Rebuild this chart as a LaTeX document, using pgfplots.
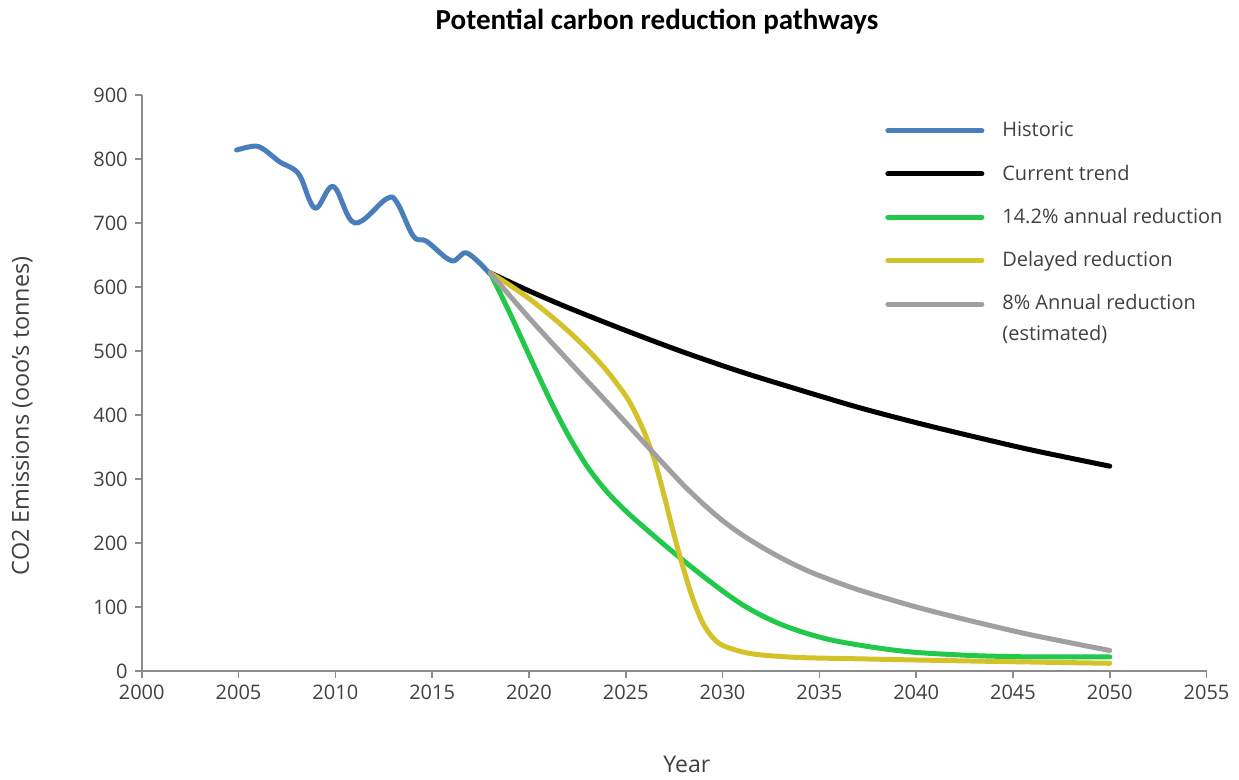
\documentclass[border=0pt]{standalone}
\usepackage{pgfplots}
\pgfplotsset{compat=1.18}
\usepackage{fontspec}
\setmainfont{Open Sans}
\newfontfamily\titlefont{Carlito}
\definecolor{histblue}{HTML}{4A7EBB}
\definecolor{redgreen}{HTML}{22C84A}
\definecolor{delayyellow}{HTML}{D4C22A}
\definecolor{estgray}{HTML}{A0A0A0}
\definecolor{axisgray}{HTML}{8C8C8C}
\definecolor{labelgray}{HTML}{404040}
\pgfplotsset{graylegend/.style={legend image code/.code={\draw[##1, line width=2.5pt, line cap=round] (0pt,7.5pt) -- (47pt,7.5pt); \path (0pt,-7.5pt);}}}
\begin{document}
\begin{tikzpicture}
\begin{axis}[
  scale only axis, width=532.4pt, height=288pt,
  xmin=2000, xmax=2055, ymin=0, ymax=900,
  xtick={2000,2005,...,2055}, ytick={0,100,...,900},
  axis x line*=bottom, axis y line*=left,
  axis line style={-, axisgray, line width=0.8pt},
  tick style={axisgray, line width=0.8pt},
  major tick length=3.5pt, tick align=outside,
  /pgf/number format/assume math mode=true,
  x tick label style={/pgf/number format/1000 sep={}},
  ticklabel style={font=\fontsize{10}{12}\selectfont, text=labelgray},
  clip=false,
  title={Potential carbon reduction pathways},
  title style={at={(0.484,1.127)}, anchor=center, yshift=0pt, font=\titlefont\bfseries\fontsize{14.5}{16}\selectfont},
  every axis title shift=0pt,
  xlabel={Year},
  xlabel style={at={(0.512,-0.1625)}, anchor=center, font=\fontsize{11.5}{13}\selectfont, text=labelgray},
  ylabel={CO2 Emissions (ooo's tonnes)},
  ylabel style={at={(-0.1124,0.443)}, anchor=center, font=\fontsize{11.7}{13}\selectfont, text=labelgray},
  legend cell align=left,
  legend image code/.code={\draw[#1, line width=2.5pt, line cap=round] (0pt,0pt) -- (47pt,0pt);},
  legend style={at={(0.698,0.957)}, anchor=north west, draw=none, fill=none,
    font=\fontsize{10}{15.5}\selectfont, text=labelgray, row sep=10.5pt, inner sep=0pt,
    nodes={inner sep=1pt, align=left},
    /tikz/every odd column/.style={column sep=8pt}},
  every axis plot/.append style={line width=2.5pt, line join=round, line cap=round},
]
\addplot[histblue, smooth, tension=0.6] coordinates {
(2004.9,814)(2005.8,820)(2006.3,815)(2007.15,795)(2007.75,786)(2008.2,772)
(2008.96,723)(2009.9,757)(2011.0,700)(2012.66,738)(2013.2,731)(2014.04,679)
(2014.73,671)(2016.0,641)(2016.8,653)(2018,620)};
\addlegendentry{Historic}
\addplot[black, smooth, tension=0.5] coordinates {
(2018,622)(2020,594)(2022,568)(2025,532)(2028,498)(2031,467)(2034,439)(2037,412)
(2040,388)(2043,366)(2046,345)(2050,320)};
\addlegendentry{Current trend}
\addplot[redgreen, smooth, tension=0.5] coordinates {
(2018,622)(2019,560)(2020,494)(2021,429)(2022,370)(2023,320)(2024,281)(2025,250)
(2026,223)(2027,197)(2028,172)(2029,148)(2030,125)(2031,104)(2032,87)(2033,73)
(2034,62)(2035,53)(2036,46)(2038,36)(2040,29)(2043,24)(2046,22)(2050,22)};
\addlegendentry{14.2\% annual reduction}
\addplot[delayyellow, smooth, tension=0.5] coordinates {
(2018,622)(2019,603)(2020,582)(2021,558)(2022,532)(2023,503)(2024,470)(2025,430)
(2025.5,403)(2026,370)(2026.5,328)(2027,272)(2027.5,212)(2028,158)(2028.5,110)
(2029,74)(2029.5,52)(2030,40)(2031,30)(2032,25)(2034,21)(2037,19)(2042,16)(2050,12)};
\addlegendentry{Delayed reduction}
\addplot[estgray, smooth, tension=0.5, graylegend] coordinates {
(2018,622)(2020,552)(2022,486)(2024,421)(2026,355)(2027,322)(2028,290)(2029,261)
(2030,235)(2031,213)(2032,194)(2033,177)(2034,162)(2035,149)(2037,127)(2040,100)
(2043,77)(2046,56)(2050,32)};
\addlegendentry{8\% Annual reduction\\(estimated)}
\coordinate (BBsw) at (rel axis cs:-0.1331,-0.1892);
\coordinate (BBne) at (rel axis cs:1.0305,1.1649);
\end{axis}
\pgfresetboundingbox
\path[use as bounding box] (BBsw) rectangle (BBne);
\end{tikzpicture}
\end{document}
